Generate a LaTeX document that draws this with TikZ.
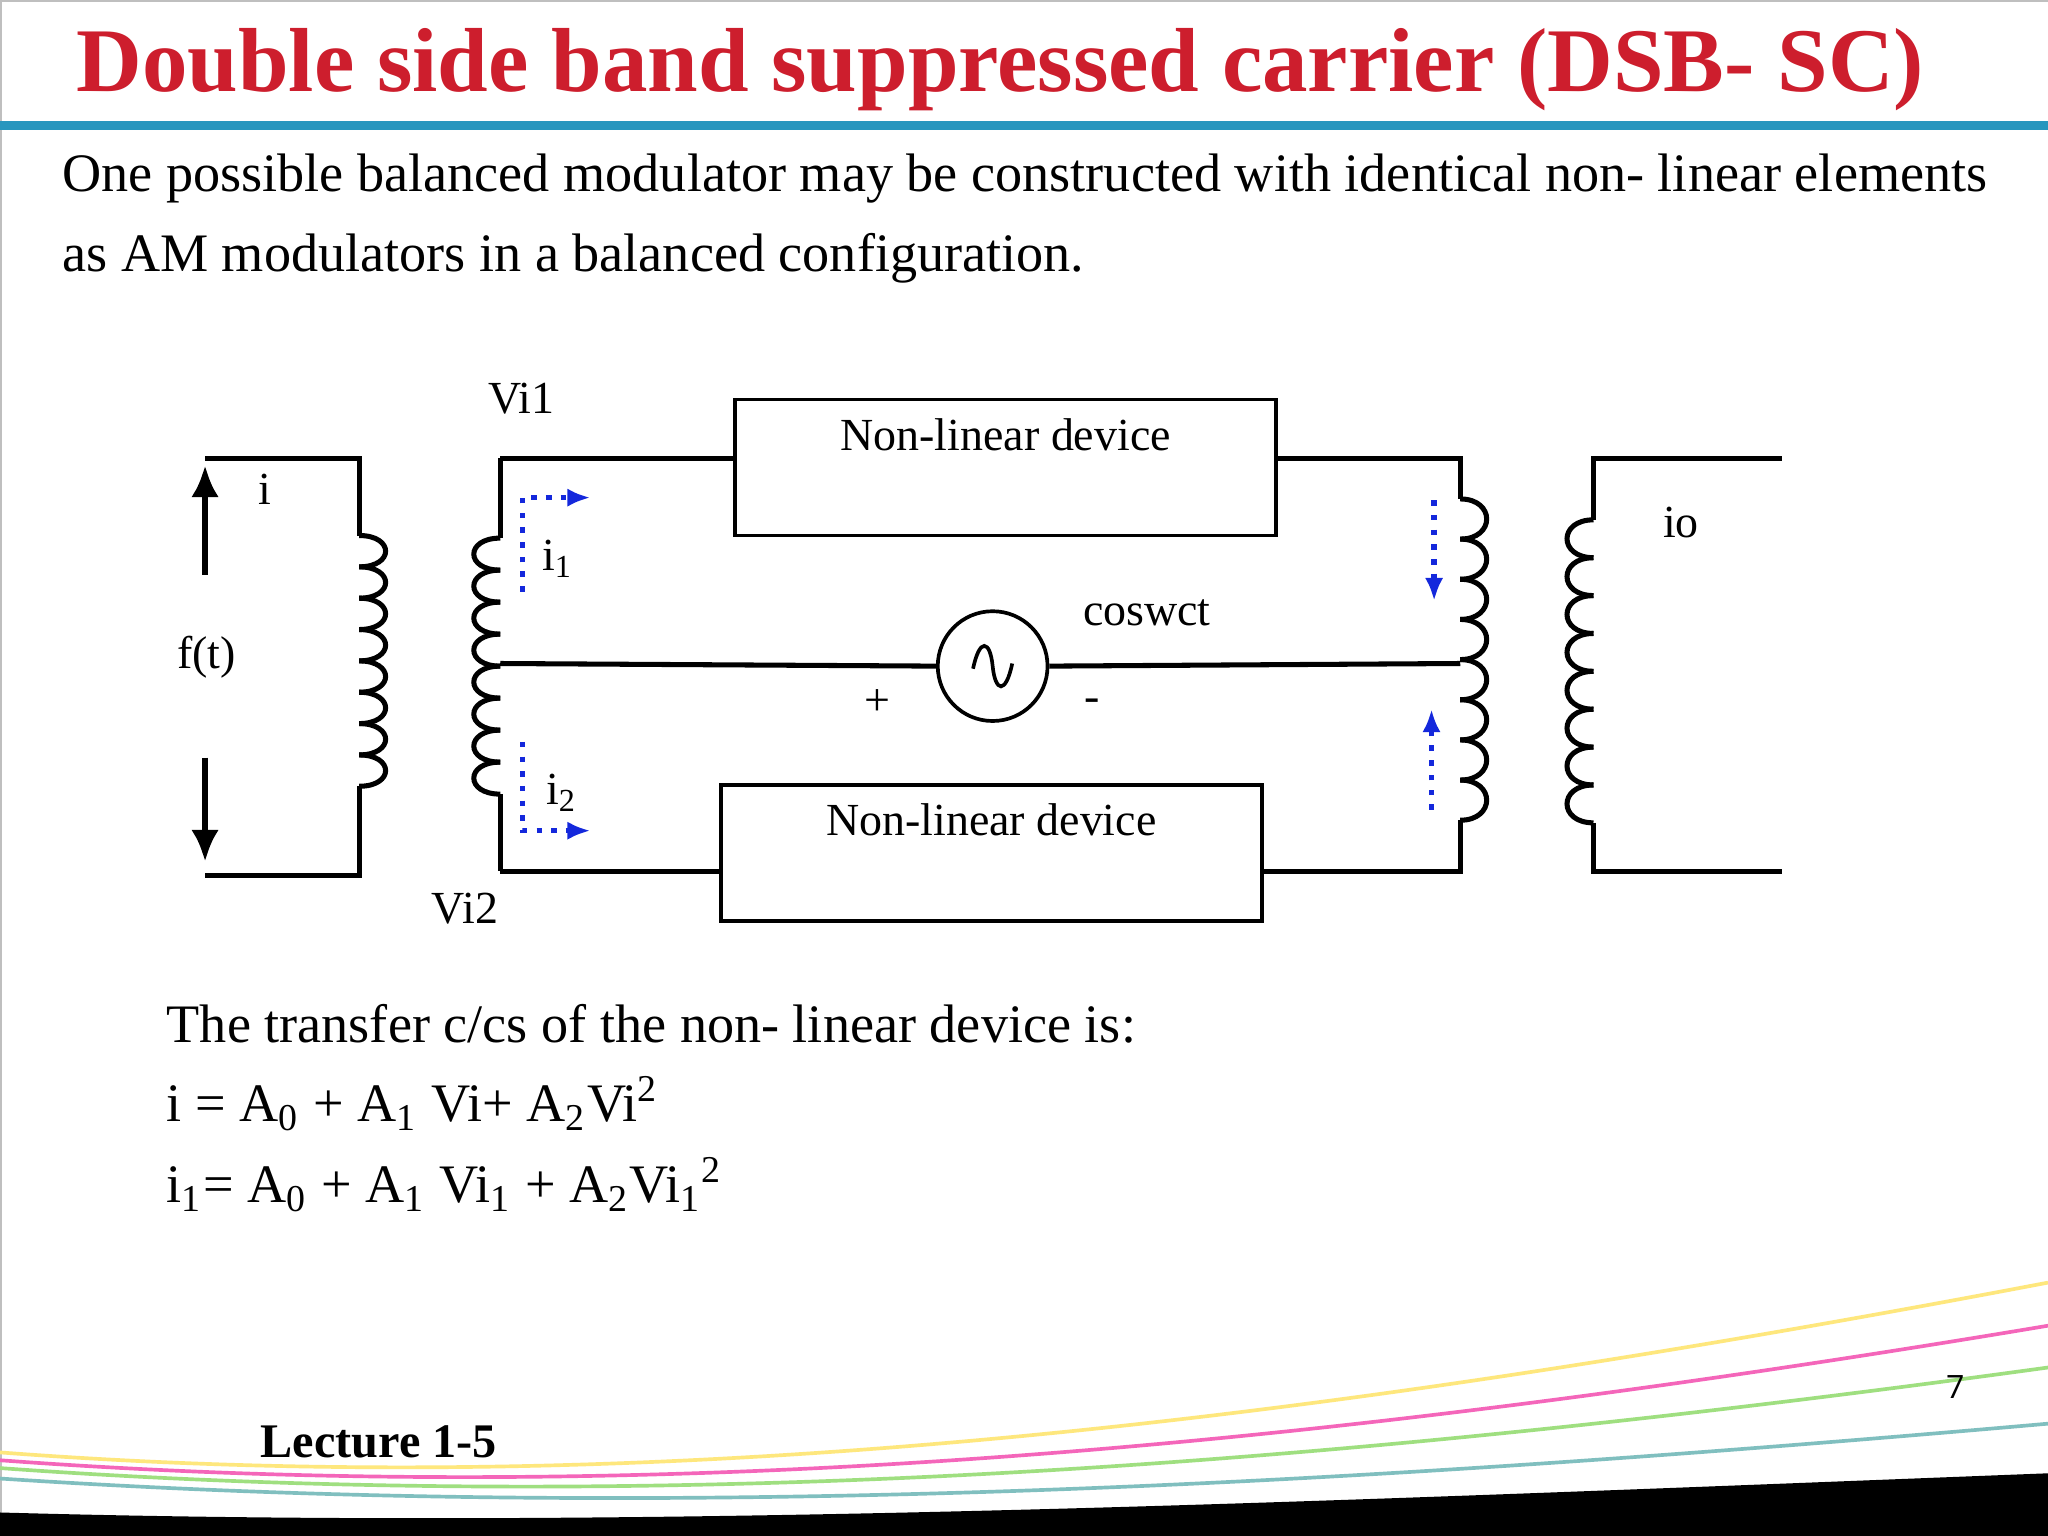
\documentclass[tikz,border=0pt]{standalone}
\usepackage{fontspec}
\setmainfont{Liberation Serif}
\newfontfamily\lblfont{Open Sans}
\usetikzlibrary{arrows.meta}
\definecolor{ttl}{RGB}{205,30,45}
\definecolor{bar}{RGB}{40,150,190}
\definecolor{dblue}{RGB}{20,40,220}
\tikzset{
 wire/.style={line width=1.1pt},
 coilw/.style={line width=1.1pt},
 dev/.style={draw,line width=0.8pt,minimum width=4.14cm,minimum height=1.04cm,inner sep=0pt},
 lbl/.style={font=\fontsize{10}{12}\selectfont,inner sep=1pt},
 body/.style={font=\fontsize{11.8}{14}\selectfont,anchor=west,inner sep=0pt},
 flow/.style={dblue,line width=1.2pt,dotted,-{Latex[length=5pt,width=4pt]}}
}
\begin{document}
\begin{tikzpicture}[x=0.01cm,y=-0.01cm]
\useasboundingbox (0,0) rectangle (1568,1176);
\fill[white] (0,0) rectangle (1568,1176);
\draw[gray!50] (1,1176) -- (1,1) -- (1568,1);
\node[anchor=west,text=ttl,font=\fontsize{19.8}{24}\bfseries\selectfont,inner sep=0pt] (title) at (58,53) {Double side band suppressed carrier (DSB- SC)};
\draw[bar,line width=2pt] (0,96) -- (1568,96);
\node[body] (t1) at (47,137) {One possible balanced modulator may be constructed with identical non- linear elements};
\node[body] (t2) at (47,198) {as AM modulators in a balanced configuration.};
% left primary
\draw[wire] (157,351) -- (275,351) -- (275,410);
\foreach \k in {0,...,7} \draw[coilw] (275,{410+24*\k}) .. controls (302,{410+24*\k}) and (302,{434+24*\k}) .. (275,{434+24*\k});
\draw[wire] (275,602) -- (275,670) -- (157,670);
\draw[line width=1.4pt,-{Latex[length=7pt,width=6pt]}] (157,440) -- (157,356);
\draw[line width=1.4pt,-{Latex[length=7pt,width=6pt]}] (157,580) -- (157,660);
\node[lbl] (li) at (203,375) {i};
\node[lbl] (lf) at (158,503) {f(t)};
% secondary left
\draw[wire] (383,351) -- (383,412);
\foreach \k in {0,...,7} \draw[coilw] (383,{412+24.5*\k}) .. controls (356,{412+24.5*\k}) and (356,{436.5+24.5*\k}) .. (383,{436.5+24.5*\k});
\draw[wire] (383,608) -- (383,667);
\node[dev] (d1) at (770,358) {};
\node[lbl,anchor=north] (d1t) at (770,316) {Non-linear device};
\node[dev] (d2) at (759,653) {};
\node[lbl,anchor=north] (d2t) at (759,611) {Non-linear device};
\draw[wire] (383,351) -- (d1.west|-0,351);
\draw[wire] (d1.east|-0,351) -- (1118,351) -- (1118,382);
\draw[wire] (383,667) -- (d2.west|-0,667);
\draw[wire] (d2.east|-0,667) -- (1118,667) -- (1118,628);
\foreach \k in {0,...,7} \draw[coilw] (1118,{382+30.75*\k}) .. controls (1145,{382+30.75*\k}) and (1145,{412.75+30.75*\k}) .. (1118,{412.75+30.75*\k});
% source
\node[draw,circle,line width=0.8pt,minimum size=0.84cm,inner sep=0pt] (src) at (760,510) {};
\draw[line width=0.8pt] (745,512) .. controls (750,488) and (758,490) .. (760,510) .. controls (762,530) and (770,532) .. (775,508);
\draw[wire] (383,508) -- (src.west);
\draw[wire] (src.east) -- (1118,508);
\node[lbl] (cw) at (878,469) {coswct};
\node[lbl] (pl) at (672,538) {+};
\node[lbl] (mi) at (836,540) {-};
% output
\draw[wire] (1364,351) -- (1220,351) -- (1220,398);
\foreach \k in {0,...,7} \draw[coilw] (1220,{398+29*\k}) .. controls (1193,{398+29*\k}) and (1193,{427+29*\k}) .. (1220,{427+29*\k});
\draw[wire] (1220,630) -- (1220,667) -- (1364,667);
\node[lbl] (io) at (1287,400) {io};
\node[lbl] (v1) at (399,305) {Vi1};
\node[lbl] (v2) at (356,696) {Vi2};
\node[lbl] (i1) at (427,428) {i\textsubscript{1}};
\node[lbl] (i2) at (430,607) {i\textsubscript{2}};
% flows
\coordinate (f1a) at (400,453); \coordinate (f1b) at (400,381); \coordinate (f1c) at (452,381);
\draw[flow] (f1a) -- (f1b) -- (f1c);
\coordinate (f2a) at (400,568); \coordinate (f2b) at (400,636); \coordinate (f2c) at (452,636);
\draw[flow] (f2a) -- (f2b) -- (f2c);
\coordinate (f3a) at (1098,383); \coordinate (f3b) at (1098,460);
\draw[flow] (f3a) -- (f3b);
\coordinate (f4a) at (1096,620); \coordinate (f4b) at (1096,543);
\draw[flow] (f4a) -- (f4b);
% equations
\node[body] (e0) at (127,784) {The transfer c/cs of the non- linear device is:};
\node[body] (e1) at (127,845) {i = A\textsubscript{0} + A\textsubscript{1} Vi+ A\textsubscript{2}Vi\textsuperscript{2}};
\node[body] (e2) at (127,907) {i\textsubscript{1}= A\textsubscript{0} + A\textsubscript{1} Vi\textsubscript{1} + A\textsubscript{2}Vi\textsubscript{1}\textsuperscript{2}};
% footer decoration
\draw[yellow!70!orange!50,line width=0.8pt] (0,1112) .. controls (500,1150) and (1000,1090) .. (1568,982);
\draw[magenta!60,line width=0.8pt] (0,1118) .. controls (500,1155) and (1000,1110) .. (1568,1015);
\draw[green!50!olive!50,line width=0.8pt] (0,1124) .. controls (500,1160) and (1000,1125) .. (1568,1047);
\draw[teal!50,line width=0.8pt] (0,1132) .. controls (500,1165) and (1000,1140) .. (1568,1090);
\fill[black] (0,1176) -- (0,1158) .. controls (500,1172) and (1000,1150) .. (1568,1128) -- (1568,1176) -- cycle;
\node[font=\lblfont\fontsize{7}{8}\selectfont,inner sep=0pt] (pg) at (1497,1062) {7};
\node[font=\fontsize{10.5}{12}\bfseries\selectfont,inner sep=0pt] (lec) at (290,1104) {Lecture 1-5};
\end{tikzpicture}
\end{document}
